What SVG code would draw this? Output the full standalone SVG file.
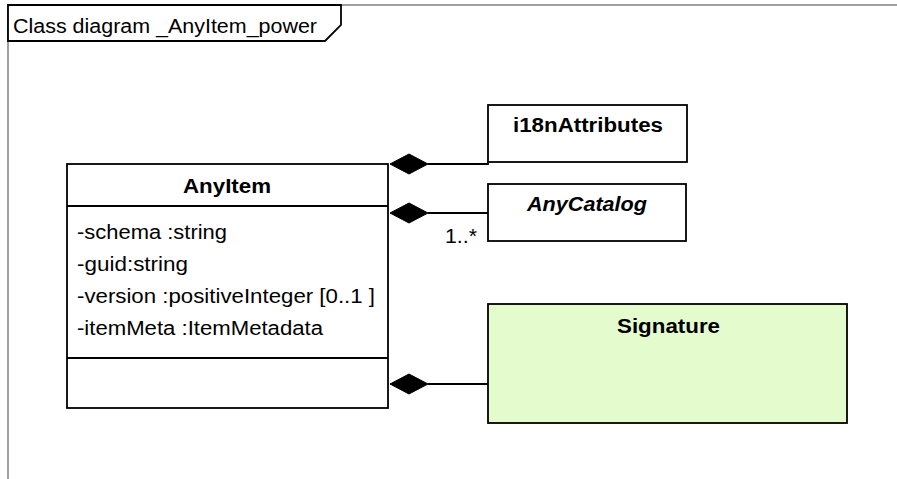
<svg xmlns="http://www.w3.org/2000/svg" width="897" height="479" viewBox="0 0 897 479">
  <style>
    .frame { fill: none; stroke: #a0a0a0; stroke-width: 2; }
    .tab { fill: #ffffff; stroke: #000000; stroke-width: 1.8; }
    .box { fill: #ffffff; stroke: #000000; stroke-width: 1.8; }
    .sig { fill: #e4fbcd; stroke: #000000; stroke-width: 1.8; }
    .sep { stroke: #000000; stroke-width: 1.8; }
    .edge { fill: none; stroke: #000000; stroke-width: 1.8; }
    .diamond { fill: #000000; stroke: #000000; stroke-width: 1; }
    text { font-family: "Liberation Sans", Arial, sans-serif; font-size: 20px; fill: #000000; }
    .name { font-weight: bold; }
    .abstract { font-weight: bold; font-style: italic; }
  </style>
  <defs>
    <polygon id="composite" class="diamond" points="0,0 19,-10 38,0 19,10"/>
  </defs>

  <!-- diagram frame with its name tab -->
  <g id="frame">
    <path class="frame" d="M8,479 V5 H897"/>
    <path class="tab" d="M8,41 V5 H341 V25 L325,41 Z"/>
    <text x="13" y="33" textLength="304" lengthAdjust="spacingAndGlyphs">Class diagram _AnyItem_power</text>
  </g>

  <!-- composition connectors -->
  <g id="connectors">
    <polyline class="edge" points="428,164 488,164 488,161"/>
    <line class="edge" x1="428" y1="213" x2="488" y2="213"/>
    <line class="edge" x1="428" y1="384" x2="488" y2="384"/>
    <use href="#composite" x="390" y="164"/>
    <use href="#composite" x="390" y="213"/>
    <use href="#composite" x="390" y="384"/>
    <text x="445" y="243" textLength="32" lengthAdjust="spacingAndGlyphs">1..*</text>
  </g>

  <g id="AnyItem">
    <rect class="box" x="67" y="164" width="321" height="244"/>
    <line class="sep" x1="67" y1="206" x2="388" y2="206"/>
    <line class="sep" x1="67" y1="358" x2="388" y2="358"/>
    <text class="name" x="183" y="193" textLength="88" lengthAdjust="spacingAndGlyphs">AnyItem</text>
    <text x="77" y="239" textLength="150" lengthAdjust="spacingAndGlyphs">-schema :string</text>
    <text x="77" y="271" textLength="111" lengthAdjust="spacingAndGlyphs">-guid:string</text>
    <text x="77" y="303" textLength="298" lengthAdjust="spacingAndGlyphs">-version :positiveInteger  [0..1 ]</text>
    <text x="77" y="335" textLength="246" lengthAdjust="spacingAndGlyphs">-itemMeta :ItemMetadata</text>
  </g>

  <g id="i18nAttributes">
    <rect class="box" x="488" y="105" width="199" height="57"/>
    <text class="name" x="513" y="132" textLength="150" lengthAdjust="spacingAndGlyphs">i18nAttributes</text>
  </g>

  <g id="AnyCatalog">
    <rect class="box" x="488" y="184" width="198" height="57"/>
    <text class="abstract" x="527" y="211" textLength="120" lengthAdjust="spacingAndGlyphs">AnyCatalog</text>
  </g>

  <g id="Signature">
    <rect class="sig" x="488" y="304" width="359" height="119"/>
    <text class="name" x="617" y="333" textLength="103" lengthAdjust="spacingAndGlyphs">Signature</text>
  </g>
</svg>
